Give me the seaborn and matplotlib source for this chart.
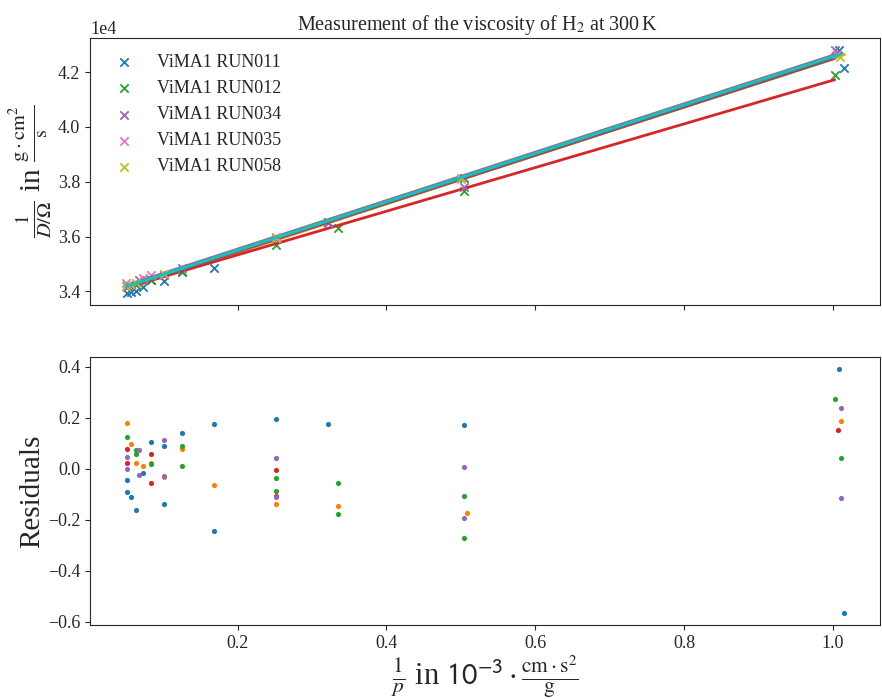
import numpy as np
import matplotlib
matplotlib.use("Agg")
import matplotlib.pyplot as plt
import seaborn as sns

sns.set_style("ticks")
plt.rcParams['font.family'] = ['Liberation Serif', 'DejaVu Serif']
plt.rcParams['mathtext.fontset'] = 'stix'
plt.rcParams['xtick.direction'] = 'out'
plt.rcParams['ytick.direction'] = 'out'

pal = sns.color_palette("tab10")

runs = ['ViMA1 RUN011', 'ViMA1 RUN012', 'ViMA1 RUN034', 'ViMA1 RUN035', 'ViMA1 RUN058']

# measured 1/(D/Omega) vs 1/p
x011 = [0.051, 0.0565, 0.0636, 0.0724, 0.0842, 0.1014, 0.1257, 0.168, 0.2515, 0.3215, 0.504, 1.0088, 1.0155]
y011 = [33950, 33980, 34020, 34150, 34400, 34370, 34700, 34870, 35920, 36550, 38150, 42800, 42150]
x012 = [0.051, 0.0636, 0.0842, 0.1257, 0.2515, 0.3355, 0.504, 1.0026]
y012 = [34200, 34250, 34400, 34750, 35680, 36330, 37680, 41900]
x034 = [0.051, 0.068, 0.1014, 0.1257, 0.2515, 0.3215, 0.504, 1.0026]
y034 = [34150, 34400, 34600, 34840, 35900, 36500, 37800, 42800]
x035 = [0.05, 0.0565, 0.0724, 0.0842, 0.2515, 0.5, 1.005]
y035 = [34300, 34250, 34500, 34590, 36000, 38150, 42650]
x058 = [0.05, 0.0636, 0.1014, 0.2515, 0.5, 1.01]
y058 = [34200, 34300, 34650, 35950, 38100, 42550]

xs = [x011, x012, x034, x035, x058]
ys = [y011, y012, y034, y035, y058]

# linear fits: intercept, slope
fit_a = [33650, 33740, 33700, 33780, 33730]
fit_b = [8850, 7960, 8770, 8830, 8830]

# residuals
res_x = [
    [0.0512, 0.0512, 0.0565, 0.0636, 0.0724, 0.0842, 0.1014, 0.1014, 0.1257, 0.168, 0.168, 0.2515, 0.3215, 0.504, 1.0088, 1.0155],
    [0.0512, 0.0565, 0.0636, 0.0724, 0.0842, 0.1014, 0.1257, 0.168, 0.2515, 0.3355, 0.508, 1.0106],
    [0.0512, 0.0636, 0.0636, 0.0842, 0.1257, 0.1257, 0.2515, 0.2515, 0.3355, 0.3355, 0.504, 0.504, 1.0026, 1.0106],
    [0.0512, 0.0512, 0.0842, 0.0842, 0.2515, 0.2515, 1.007],
    [0.0512, 0.0512, 0.068, 0.068, 0.1014, 0.1014, 0.2515, 0.2515, 0.504, 0.504, 1.0106, 1.0106],
]
res_y = [
    [-0.042, -0.091, -0.111, -0.161, -0.017, 0.107, 0.088, -0.138, 0.139, 0.178, -0.245, 0.197, 0.178, 0.174, 0.391, -0.564],
    [0.181, 0.098, 0.024, 0.012, 0.022, -0.030, 0.079, -0.062, -0.139, -0.146, -0.174, 0.188],
    [0.125, 0.075, 0.060, 0.018, 0.088, 0.013, -0.035, -0.085, -0.054, -0.178, -0.108, -0.270, 0.274, 0.042],
    [0.079, 0.024, 0.060, -0.054, -0.005, -0.105, 0.154],
    [0.045, 0.000, 0.076, -0.025, 0.113, -0.029, 0.043, -0.111, 0.009, -0.194, 0.239, -0.114],
]

fig = plt.figure(figsize=(8.82, 6.99), dpi=100)
ax1 = fig.add_axes([0.102, 0.5637, 0.896, 0.382])
ax2 = fig.add_axes([0.102, 0.1059, 0.896, 0.3834], sharex=ax1)

for i in range(5):
    sns.scatterplot(x=xs[i], y=ys[i], marker='x', color=pal[2 * i], s=36,
                    linewidth=1.3, label=runs[i], ax=ax1, zorder=2)
    lx = np.array([min(xs[i]), max(xs[i])])
    sns.lineplot(x=lx, y=fit_a[i] + fit_b[i] * lx, color=pal[2 * i + 1],
                 linewidth=2, legend=False, ax=ax1, zorder=2)

ax1.ticklabel_format(axis='y', style='sci', scilimits=(4, 4))
ax1.yaxis.get_offset_text().set_fontsize(13)
ax1.tick_params(labelbottom=False, labelsize=13)
ax1.set_title(r"Measurement of the viscosity of H$_2$ at 300$\,$K", fontsize=14.5, x=0.49)
ax1.set_ylabel(r"$\frac{1}{D/\Omega}$ in $\frac{\mathrm{g}\cdot\mathrm{cm}^2}{\mathrm{s}}$",
               fontsize=21, labelpad=2)
ax1.legend(loc='upper left', frameon=False, fontsize=13)

for i in range(5):
    sns.scatterplot(x=res_x[i], y=res_y[i], color=pal[i], s=14, linewidth=0,
                    ax=ax2)

ax2.tick_params(labelsize=13)
ax2.set_ylabel("Residuals", fontsize=21, labelpad=2)
ax2.set_xlabel(r"$\frac{1}{p}$ in $\mathsf{10}^{\mathsf{-3}}\cdot\frac{\mathrm{cm}\cdot\mathrm{s}^2}{\mathrm{g}}$",
               fontsize=22, labelpad=1)

fig.savefig("out.png", dpi=100)
